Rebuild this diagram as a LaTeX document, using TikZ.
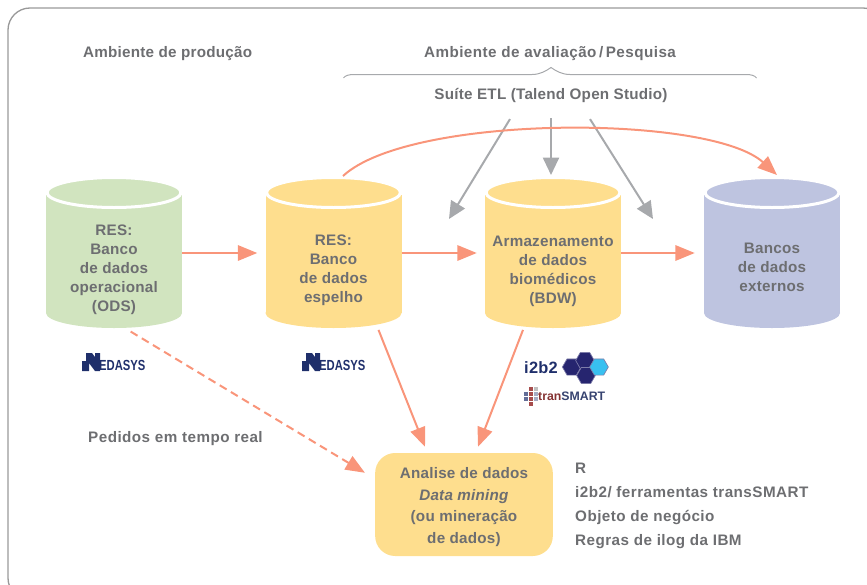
\documentclass[tikz,border=0pt]{standalone}
\usepackage{fontspec}
\setmainfont[LetterSpace=1.5]{Liberation Sans}
\usetikzlibrary{calc,arrows.meta,shapes.geometric}
\definecolor{txtgray}{HTML}{6D6E71}
\definecolor{dbgreen}{HTML}{D1E4BF}
\definecolor{dbyellow}{HTML}{FEDE8E}
\definecolor{dbblue}{HTML}{BEC4E0}
\definecolor{salmon}{HTML}{F9957A}
\definecolor{arrgray}{HTML}{A7A9AC}
\definecolor{navy}{HTML}{1F2F6B}
\definecolor{hexdark}{HTML}{26256F}
\definecolor{hexlight}{HTML}{38C0F0}
\tikzset{
  lbl/.style={text=txtgray,font=\fontsize{13}{16.2}\selectfont\bfseries,inner sep=0pt},
  lblwide/.style={lbl,font=\fontsize{13}{16.2}\selectfont\bfseries\addfontfeatures{LetterSpace=3}},
  dbbody/.style={minimum width=4.08cm,minimum height=3.6cm,inner sep=0pt},
  flow/.style={salmon,line width=.06cm,-{Triangle[length=.58cm,width=.46cm]}},
  etlarrow/.style={arrgray,line width=.06cm,-{Triangle[length=.52cm,width=.48cm]}},
  hexa/.style={regular polygon,regular polygon sides=6,draw=white!40!hexdark,
    fill=hexdark,inner sep=0pt,minimum size=.56cm,line width=.02cm},
  medasys/.pic={
    \fill[navy] (-32,9) -- (-32,-1) -- (-28,-1) -- (-28,-9) -- (-22,-9) -- (-19,-5) -- (-19,-9) -- (-14,-9)
      -- (-14,9) -- (-19,9) -- (-25,1) -- (-25,9) -- cycle;
    \node[text=navy,font=\fontsize{9.6}{12}\selectfont\bfseries,inner sep=0pt,anchor=west] at (-15,3.5)
      {\addfontfeatures{LetterSpace=0}\scalebox{1}[1.3]{EDASYS}};
  }
}
\begin{document}
\begin{tikzpicture}[x=.03cm,y=-.03cm]
\useasboundingbox (0,0) rectangle (867,584);
\begin{scope}
\clip (0,0) rectangle (867,584);
\draw[gray!80,line width=.04cm,rounded corners=.66cm] (8,8) rectangle (885,600);
\end{scope}
\foreach \name/\x/\ty/\col/\txt in {ods/114/270/dbgreen/{RES:\\Banco\\de dados\\operacional\\(ODS)},
  mirror/333.5/270/dbyellow/{RES:\\Banco\\de dados\\espelho},
  bdw/553/271/dbyellow/{Armazenamento\\de dados\\biomédicos\\(BDW)},
  ext/772/267/dbblue/{Bancos\\de dados\\externos}}
{
  \fill[\col] (\x-68,195) rectangle (\x+68,313);
  \fill[\col] (\x,313) ellipse [x radius=68,y radius=15];
  \fill[\col,draw=white,line width=.09cm] (\x,192.5) ellipse [x radius=67,y radius=15];
  \node[dbbody] (\name) at (\x,268) {};
  \node[lbl,align=center] (\name txt) at (\x,\ty) {\txt};
}
\node[lbl,anchor=west] (prod) at (83,54) {Ambiente de produção};
\node[lblwide] (eval) at (550,54) {Ambiente de avaliação\,/\,Pesquisa};
\node[lbl] (etl) at (551,95) {Suíte ETL (Talend Open Studio)};
\node[lblwide,anchor=west] (realtime) at (88,439) {Pedidos em tempo real};
\node[fill=dbyellow,rounded corners=.6cm,minimum width=5.33cm,minimum height=3.09cm] (mining) at (464,504.5) {};
\node[lbl,align=center] (miningtxt) at (464,507)
  {Analise de dados\\[2.4pt]\textit{Data mining}\\[2.4pt](ou mineração\\[2.4pt]de dados)};
\node[lblwide,anchor=north west,align=left] (tools) at (575,463)
  {R\\[4.2pt]i2b2/ ferramentas transSMART\\[4.2pt]Objeto de negócio\\[4.2pt]Regras de ilog da IBM};
\draw[arrgray,line width=.03cm] (343.5,78) .. controls (345,75.5) and (349,74.5) .. (354,74.5) -- (532,74.5)
  .. controls (540,74.5) and (546,71) .. (551,67.5) .. controls (556,71) and (562,74.5) .. (570,74.5) -- (746,74.5)
  .. controls (751,74.5) and (755,75.5) .. (756.5,78);
\coordinate (etlleft) at (449,219);
\coordinate (etlmid) at (551,175);
\coordinate (etlright) at (653,219);
\coordinate (arcstart) at (343,176);
\coordinate (arcend) at (777,175);
\draw[etlarrow] ([xshift=-1.23cm,yshift=-.5cm]etl.south) -- (etlleft);
\draw[etlarrow] ([yshift=-.47cm]etl.south) -- (etlmid);
\draw[etlarrow] ([xshift=1.17cm,yshift=-.5cm]etl.south) -- (etlright);
\draw[flow] (arcstart) .. controls (410,114) and (710,114) .. (arcend);
\draw[flow] ([yshift=.45cm]ods.east) -- ([xshift=-.24cm,yshift=.45cm]mirror.west);
\draw[flow] ([yshift=.45cm]mirror.east) -- ([xshift=-.24cm,yshift=.45cm]bdw.west);
\draw[flow] ([yshift=.45cm]bdw.east) -- ([xshift=-.27cm,yshift=.45cm]ext.west);
\draw[flow] ([xshift=1.35cm,yshift=-.05cm]mirror.south) -- ([xshift=-1.17cm,yshift=.18cm]mining.north);
\draw[flow] ([xshift=-.9cm,yshift=-.05cm]bdw.south) -- ([xshift=.42cm,yshift=.18cm]mining.north);
\draw[flow,dash pattern=on .24cm off .15cm] ([xshift=.5cm,yshift=-.1cm]ods.south) -- ([xshift=-.3cm,yshift=-.6cm]mining.north west);
\pic at (114,362) {medasys};
\pic at (334,362) {medasys};
\node[text=navy,font=\fontsize{14}{16}\selectfont\bfseries,inner sep=0pt] (i2b2) at (541,368) {i2b2};
\node[hexa] (hexl) at (571.7,367) {};
\node[hexa] (hexm) at (585,360.5) {};
\node[hexa] (hexb) at (586,375.5) {};
\node[hexa,fill=hexlight] (hexr) at (599,367) {};
\foreach \gx/\gy/\gcol in {524/392/navy!70,524/397/navy!70,529/387/red!50!black!70,529/392/red!50!black!70,529/397/red!50!black!70,
  529/402/red!50!black!70,534/387/gray!50,534/392/navy!40,534/397/navy!40}
  \fill[\gcol] (\gx,\gy) rectangle ++(3.5,3.5);
\node[inner sep=0pt,anchor=west,font=\fontsize{10.5}{12}\selectfont\bfseries] (transmart) at (538,396.5)
  {\addfontfeatures{LetterSpace=0}\textcolor{red!40!black!80}{tran}\textcolor{navy!75!gray}{SMART}};
\end{tikzpicture}
\end{document}
